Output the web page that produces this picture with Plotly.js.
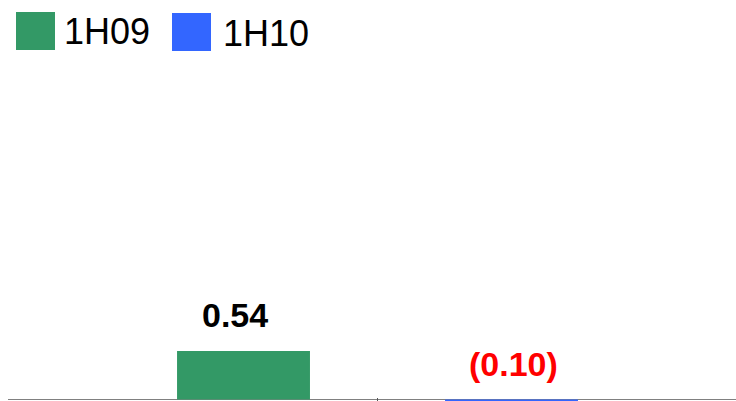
<!DOCTYPE html>
<html>
<head>
<meta charset="utf-8">
<script src="https://cdn.plot.ly/plotly-3.0.1.min.js"></script>
<style>html,body{margin:0;padding:0;background:#fff;}#chart{width:736px;height:401px;}</style>
</head>
<body>
<div id="chart"></div>
<script>
const categories = ['EPS'];
const seriesNames = ['1H09', '1H10'];
const values1H09 = [0.54];
const values1H10 = [-0.10];
const seriesColors = ['#339966', '#3366FF'];
const labelColors = ['#000000', '#FF0000'];

const W = 736, H = 401, ML = 8, MT = 60, MB = 0, MR = 0;
const PW = W - ML - MR, PH = H - MT - MB;
const px2x = p => (p - ML) / PW;
const px2y = p => (H - MB - p) / PH;

const series = [values1H09, values1H10];
const fmt = v => v < 0 ? '(' + Math.abs(v).toFixed(2) + ')' : v.toFixed(2);

const traces = series.map((vals, i) => ({
  type: 'bar', x: categories, y: vals, name: seriesNames[i],
  marker: {color: seriesColors[i]}, hoverinfo: 'skip', showlegend: false
}));

const labelShift = [-143, 136];
const annotations = [];
series.forEach((vals, i) => {
  vals.forEach((v, j) => {
    annotations.push({
      x: categories[j], y: Math.max(v, 0), xref: 'x', yref: 'y',
      text: '<b>' + fmt(v) + '</b>', showarrow: false,
      xanchor: 'center', yanchor: 'middle', xshift: labelShift[i], yshift: 36,
      font: {family: 'Liberation Sans, Arial, sans-serif', size: 34, color: labelColors[i]}
    });
  });
});

// custom legend
const legendBoxes = [[16, 12, 55, 50], [172, 13, 211, 51]];
const legendText = [[62, 31.5], [221, 33.5]];
const shapes = [];
seriesNames.forEach((n, i) => {
  const b = legendBoxes[i];
  shapes.push({type: 'rect', xref: 'paper', yref: 'paper',
    x0: px2x(b[0]), x1: px2x(b[2]), y0: px2y(b[3]), y1: px2y(b[1]),
    fillcolor: seriesColors[i], line: {width: 0}});
  annotations.push({xref: 'paper', yref: 'paper', x: px2x(legendText[i][0]), y: px2y(legendText[i][1]),
    xanchor: 'left', yanchor: 'middle', showarrow: false, text: n,
    font: {family: 'Liberation Sans, Arial, sans-serif', size: 36, color: '#000'}});
});

const layout = {
  width: W, height: H, margin: {l: ML, r: MR, t: MT, b: MB, pad: 0},
  paper_bgcolor: '#fff', plot_bgcolor: '#fff',
  barmode: 'group', bargap: 0.2747, bargroupgap: 0.504,
  xaxis: {type: 'category', range: [-0.5, 0.4851], showgrid: false, showline: false,
    showticklabels: false, ticks: 'inside', ticklen: 3, tickcolor: '#555', tickwidth: 1, zeroline: false},
  yaxis: {range: [-0.0167, 3.78], showgrid: false, showticklabels: false, ticks: '',
    zeroline: true, zerolinecolor: '#808080', zerolinewidth: 1.5, showline: false},
  showlegend: false, annotations: annotations, shapes: shapes
};
Plotly.newPlot('chart', traces, layout, {staticPlot: true, displayModeBar: false});
</script>
</body>
</html>
